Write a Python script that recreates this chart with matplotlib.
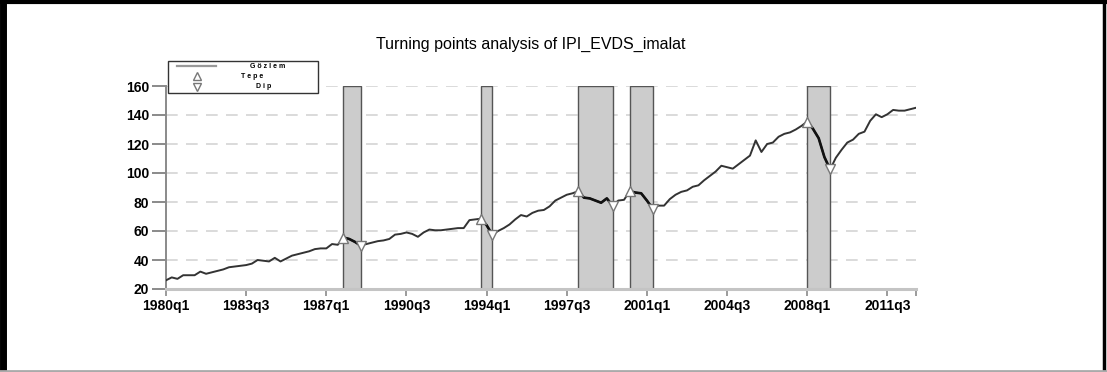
import matplotlib
matplotlib.use("Agg")
import matplotlib.pyplot as plt
from matplotlib.lines import Line2D
from matplotlib.patches import Rectangle

plt.rcParams['font.family'] = ['Liberation Sans', 'DejaVu Sans']

# Quarterly manufacturing production index, 1980q1 - 2012q4
start_year = 1980
ipi_values = [
    26, 28, 27, 29.5, 29.5, 29.5, 32, 30.5, 31.5, 32.5,
    33.5, 35, 35.5, 36, 36.5, 37.5, 40, 39.5, 39, 41.5,
    39, 41, 43, 44, 45, 46, 47.5, 48, 48, 51,
    50.5, 55.5, 54.5, 52.5, 50, 51, 52, 53, 53.5, 54.5,
    57.5, 58, 59, 58, 56, 59, 61, 60.5, 60.5, 61,
    61.5, 62, 62, 67.5, 68, 68.5, 64, 57.5, 60, 62,
    64.5, 68, 71, 70, 72.5, 74, 74.5, 77, 81, 83,
    85, 86, 87.5, 83, 82.5, 81, 79.5, 82.5, 77.5, 81,
    81.5, 87.5, 86.5, 86, 81, 75.5, 77.5, 77.5, 82, 85,
    87, 88, 90.5, 91.5, 95, 98, 101, 105, 104, 103,
    106, 109, 112, 122.5, 114.5, 120, 121, 125, 127, 128,
    130, 132.5, 135.5, 130.5, 124, 111, 102.5, 110.5, 116, 121,
    123, 127, 128.5, 136, 140.5, 138.5, 140.5, 143.5, 143, 143,
    144, 145,
]
quarters = [f"{start_year + i // 4}q{i % 4 + 1}" for i in range(len(ipi_values))]

# Turning points (Tepe = peak, Dip = trough)
peaks = ["1987q4", "1993q4", "1998q1", "2000q2", "2008q1"]
troughs = ["1988q3", "1994q2", "1999q3", "2001q2", "2009q1"]

tick_labels = ["1980q1", "1983q3", "1987q1", "1990q3", "1994q1",
               "1997q3", "2001q1", "2004q3", "2008q1", "2011q3"]
y_ticks = [20, 40, 60, 80, 100, 120, 140, 160]

W, H = 1107, 372
fig = plt.figure(figsize=(W / 100, H / 100), dpi=100)


def fx(px):
    return px / W


def fy(py):
    return 1 - py / H


ax = fig.add_axes([fx(166), fy(289), fx(916) - fx(166), fy(86) - fy(289)])

idx = {q: i for i, q in enumerate(quarters)}
x = list(range(len(ipi_values)))

ax.set_xlim(0, len(ipi_values) - 1)
ax.set_ylim(20, 160)

# recession bands from peak to trough
for p, t in zip(peaks, troughs):
    ax.axvspan(idx[p], idx[t], ymin=0, ymax=1, facecolor="#cccccc",
               edgecolor="#555555", linewidth=1.0, zorder=2)

# dashed horizontal grid
for yv in y_ticks[1:]:
    ax.axhline(yv, color="#d4d4d4", linewidth=1.2, dashes=(7, 5), zorder=1)

# series
ax.plot(x, ipi_values, color="#333333", linewidth=1.4, zorder=3)
for p, t in zip(peaks, troughs):
    seg = range(idx[p], idx[t] + 1)
    ax.plot(list(seg), [ipi_values[i] for i in seg], color="#111111",
            linewidth=1.9, zorder=3.5)

mk = dict(markersize=7, markerfacecolor="white", markeredgecolor="#777777",
          markeredgewidth=1.0, linestyle="none", zorder=4)
ax.plot([idx[p] for p in peaks], [ipi_values[idx[p]] for p in peaks], "^", **mk)
ax.plot([idx[t] for t in troughs], [ipi_values[idx[t]] for t in troughs], "v", **mk)

# axes styling
for s in ("top", "right"):
    ax.spines[s].set_visible(False)
ax.spines["left"].set_color("#8a8a8a")
ax.spines["left"].set_linewidth(1.4)
ax.spines["bottom"].set_color("#c4c4c4")
ax.spines["bottom"].set_linewidth(2.2)

ax.set_yticks(y_ticks)
ax.set_yticklabels([str(v) for v in y_ticks], fontsize=10, fontweight="bold")
ax.set_xticks([idx[q] for q in tick_labels])
ax.set_xticklabels(tick_labels, fontsize=10, fontweight="bold")
ax.set_xticks([len(ipi_values) - 1], minor=True)
ax.tick_params(axis="y", length=10, width=1.4, color="#8a8a8a", pad=2)
ax.tick_params(axis="x", which="both", length=5, width=1.2, color="#8a8a8a", pad=2)

fig.text(fx(531), fy(44), "Turning points analysis of IPI_EVDS_imalat",
         ha="center", va="center", fontsize=11.5)

# legend box
fig.add_artist(Rectangle((fx(168), fy(93)), fx(318) - fx(168), fy(61) - fy(93),
                         transform=fig.transFigure, facecolor="white",
                         edgecolor="#333333", linewidth=1.0, zorder=10))
fig.add_artist(Line2D([fx(177), fx(216)], [fy(66), fy(66)], transform=fig.transFigure,
                      color="#999999", linewidth=1.6, zorder=11))
fig.add_artist(Line2D([fx(197)], [fy(76)], transform=fig.transFigure, marker="^",
                      markersize=6, markerfacecolor="white", markeredgecolor="#777777",
                      linestyle="none", zorder=11))
fig.add_artist(Line2D([fx(197)], [fy(87)], transform=fig.transFigure, marker="v",
                      markersize=6, markerfacecolor="white", markeredgecolor="#777777",
                      linestyle="none", zorder=11))
leg_kw = dict(ha="center", va="center", fontsize=5, fontweight="bold", zorder=12)
fig.text(fx(268), fy(66), "G ö z l e m", **leg_kw)
fig.text(fx(252), fy(76), "T e p e", **leg_kw)
fig.text(fx(264), fy(87), "D i p", **leg_kw)

# outer frame
fig.add_artist(Line2D([0, 1], [fy(1.5), fy(1.5)], transform=fig.transFigure,
                      color="black", linewidth=3))
fig.add_artist(Line2D([fx(2.5), fx(2.5)], [0, 1], transform=fig.transFigure,
                      color="black", linewidth=5))
fig.add_artist(Line2D([fx(1104), fx(1104)], [0, 1], transform=fig.transFigure,
                      color="black", linewidth=2.5))
fig.add_artist(Line2D([0, 1], [fy(370.5), fy(370.5)], transform=fig.transFigure,
                      color="#aaaaaa", linewidth=2))

fig.savefig("out.png", dpi=100)
